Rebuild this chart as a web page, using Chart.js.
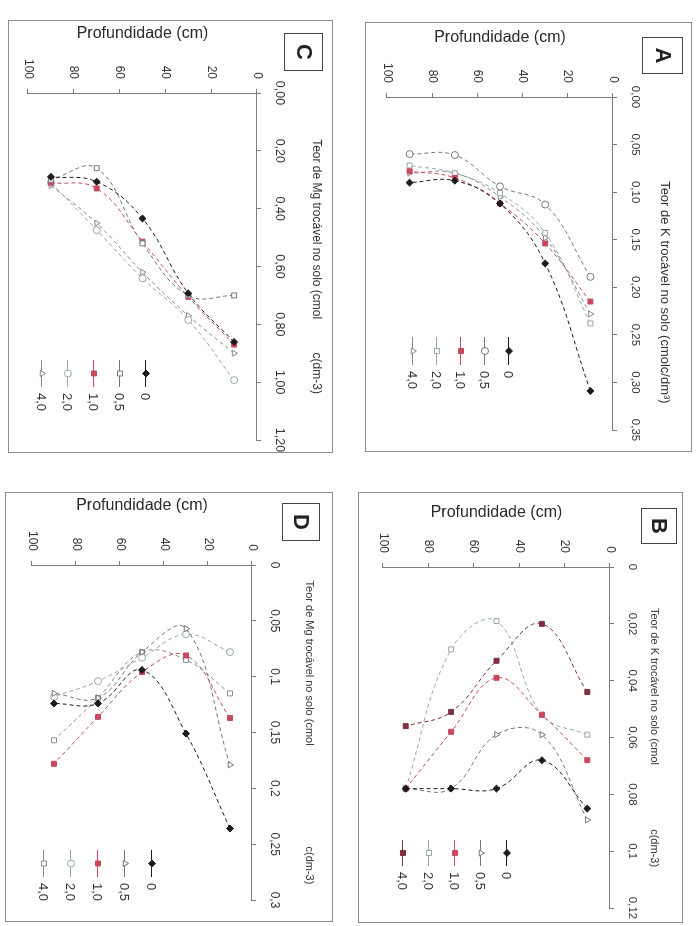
<!DOCTYPE html>
<html lang="pt">
<head>
<meta charset="utf-8">
<title>Teores de K e Mg trocáveis no perfil do solo</title>
<script src="https://cdn.jsdelivr.net/npm/chart.js@4.4.1/dist/chart.umd.min.js"></script>
<style>
  html, body { margin: 0; padding: 0; background: #fff; }
  body { position: relative; width: 697px; height: 926px; overflow: hidden; }
  /* cada painel e desenhado "em pe" e girado 90 graus, como na folha digitalizada */
  .painel { position: absolute; transform-origin: 0 0; transform: rotate(90deg); outline: 1px solid #8c8c8c; outline-offset: -1px; }
  .painel canvas { display: block; }
</style>
</head>
<body>
<div class="painel" style="left:692px;top:22px;width:430px;height:327px"><canvas id="chartA" width="430" height="327"></canvas></div>
<div class="painel" style="left:683px;top:492px;width:431px;height:325px"><canvas id="chartB" width="431" height="325"></canvas></div>
<div class="painel" style="left:333px;top:20px;width:433px;height:325px"><canvas id="chartC" width="433" height="325"></canvas></div>
<div class="painel" style="left:333px;top:492px;width:430px;height:328px"><canvas id="chartD" width="430" height="328"></canvas></div>

<script>
//----------------------------------------------------------------------------------------------------------------------------
// Profundidades de amostragem (cm) e doses (legenda)
const profundidades = [10, 30, 50, 70, 90];
const doses = ['0', '0,5', '1,0', '2,0', '4,0'];

// Rótulos dos eixos
const ticksProf = ['0', '20', '40', '60', '80', '100'];
const ticksA = ['0,00', '0,05', '0,10', '0,15', '0,20', '0,25', '0,30', '0,35'];
const ticksB = ['0', '0,02', '0,04', '0,06', '0,08', '0,1', '0,12'];
const ticksC = ['0,00', '0,20', '0,40', '0,60', '0,80', '1,00', '1,20'];
const ticksD = ['0', '0,05', '0,1', '0,15', '0,2', '0,25', '0,3'];

// A - Teor de K trocável (cmolc/dm3), uma lista por dose, na ordem das profundidades
const kA_0  = [0.309, 0.175, 0.112, 0.088, 0.090];
const kA_05 = [0.189, 0.113, 0.094, 0.061, 0.060];
const kA_1  = [0.215, 0.154, 0.112, 0.085, 0.078];
const kA_2  = [0.238, 0.143, 0.101, 0.080, 0.072];
const kA_4  = [0.228, 0.148, 0.105, 0.080, 0.080];

// B - Teor de K trocável
const kB_0  = [0.085, 0.068, 0.078, 0.078, 0.078];
const kB_05 = [0.089, 0.059, 0.059, 0.078, 0.078];
const kB_1  = [0.068, 0.052, 0.039, 0.058, 0.078];
const kB_2  = [0.059, 0.052, 0.019, 0.029, 0.078];
const kB_4  = [0.044, 0.020, 0.033, 0.051, 0.056];

// C - Teor de Mg trocável
const mgC_0  = [0.861, 0.693, 0.434, 0.307, 0.290];
const mgC_05 = [0.700, 0.700, 0.520, 0.260, 0.300];
const mgC_1  = [0.870, 0.705, 0.514, 0.330, 0.310];
const mgC_2  = [0.993, 0.785, 0.641, 0.474, 0.310];
const mgC_4  = [0.900, 0.770, 0.620, 0.450, 0.320];

// D - Teor de Mg trocável
const mgD_0  = [0.236, 0.151, 0.094, 0.124, 0.124];
const mgD_05 = [0.179, 0.057, 0.078, 0.119, 0.115];
const mgD_1  = [0.137, 0.081, 0.096, 0.136, 0.178];
const mgD_2  = [0.078, 0.062, 0.083, 0.104, 0.118];
const mgD_4  = [0.115, 0.085, 0.078, 0.119, 0.157];

// Estilos das séries
const fonte = '"Liberation Sans", Arial, sans-serif';
const corTexto = '#333';
const corEixo = '#7c7c7c';
const coresDose = ['#1c1c1c', '#767676', '#c8485e', '#98a6b0', '#8a8a8a'];

// Caixa com a letra do painel e legenda empilhada dentro da área do gráfico
const extrasPainel = {
    id: 'extrasPainel',
    afterDraw(chart, args, opts) {
        const c = chart.ctx;
        const [bx, by, bw, bh] = opts.caixa;
        c.save();
        c.setLineDash([]);
        c.lineWidth = 1;
        c.strokeStyle = '#444';
        c.strokeRect(bx + 0.5, by + 0.5, bw, bh);
        c.fillStyle = '#222';
        c.font = 'bold 22px ' + fonte;
        c.textAlign = 'center';
        c.textBaseline = 'middle';
        c.fillText(opts.letra, bx + bw / 2 + 0.5, by + bh / 2 + 1);

        const L = opts.legenda;
        chart.data.datasets.forEach((ds, i) => {
            const y = L.top + i * L.passo;
            const x0 = L.left, x1 = L.left + L.linha;
            c.strokeStyle = ds.borderColor;
            c.beginPath();
            c.moveTo(x0, y + 0.5);
            c.lineTo(x1, y + 0.5);
            c.stroke();
            c.fillStyle = ds.pointBackgroundColor;
            c.strokeStyle = ds.pointBorderColor;
            Chart.helpers.drawPoint(c, { pointStyle: ds.pointStyle, radius: ds.pointRadius, borderWidth: 1, rotation: 0 }, (x0 + x1) / 2, y);
            c.fillStyle = corTexto;
            c.font = '13px ' + fonte;
            c.textAlign = 'left';
            c.textBaseline = 'middle';
            c.fillText(ds.label, x1 + 6, y + 1);
        });
        c.restore();
    }
};

function montaSeries(listas, estilos, cheios, cores) {
    return listas.map((valores, i) => ({
        label: doses[i],
        data: profundidades.map((p, j) => ({ x: valores[j], y: p })),
        showLine: true,
        tension: 0.4,
        borderColor: cores[i],
        borderWidth: 1,
        borderDash: [4, 3],
        pointStyle: estilos[i],
        pointRadius: 3.5,
        pointBorderWidth: 1,
        pointBorderColor: cores[i],
        pointBackgroundColor: cheios[i] ? cores[i] : '#fff'
    }));
}

function painel(id, p) {
    const ctx = document.getElementById(id).getContext('2d');
    return new Chart(ctx, {
        type: 'scatter',
        data: { datasets: montaSeries(p.listas, p.estilos, p.cheios, p.cores || coresDose) },
        options: {
            responsive: false,
            animation: false,
            layout: { padding: { top: 0, left: 0, right: p.dir, bottom: p.baixo } },
            scales: {
                x: {
                    type: 'linear',
                    position: 'top',
                    min: 0,
                    max: parseFloat(p.ticksX[p.ticksX.length - 1].replace(',', '.')),
                    afterBuildTicks: s => { s.ticks = p.ticksX.map(t => ({ value: parseFloat(t.replace(',', '.')) })); },
                    afterFit: s => { s.height = p.alturaX; s.paddingLeft = 0; s.paddingRight = 0; },
                    ticks: {
                        callback: (v, i) => p.ticksX[i],
                        autoSkip: false, maxRotation: 0, minRotation: 0,
                        padding: 11, color: corTexto,
                        font: { size: p.fonteTickX, family: fonte }
                    },
                    grid: { drawOnChartArea: false, tickLength: 4, color: corEixo },
                    border: { color: corEixo },
                    title: {
                        display: true, text: p.tituloX, color: corTexto,
                        padding: { top: p.padTituloX, bottom: 0 },
                        font: { size: p.fonteTituloX, family: fonte }
                    }
                },
                y: {
                    type: 'linear',
                    reverse: true,
                    min: 0,
                    max: 100,
                    afterBuildTicks: s => { s.ticks = ticksProf.map(t => ({ value: +t })); },
                    afterFit: s => { s.width = p.larguraY; s.paddingTop = 0; s.paddingBottom = 0; },
                    ticks: {
                        callback: (v, i) => ticksProf[i],
                        padding: 10, color: corTexto,
                        font: { size: 12, family: fonte }
                    },
                    grid: { drawOnChartArea: false, tickLength: 4, color: corEixo },
                    border: { color: corEixo },
                    title: {
                        display: true, text: 'Profundidade (cm)', color: '#2a2a2a',
                        padding: { top: p.padTituloY, bottom: 0 },
                        font: { size: 16, family: fonte }
                    }
                }
            },
            plugins: {
                legend: { display: false },
                tooltip: { enabled: false },
                extrasPainel: { letra: p.letra, caixa: p.caixa, legenda: p.legenda }
            }
        },
        plugins: [extrasPainel]
    });
}

// Painel A
painel('chartA', {
    letra: 'A',
    listas: [kA_0, kA_05, kA_1, kA_2, kA_4],
    estilos: ['rectRot', 'circle', 'rect', 'rect', 'triangle'],
    cheios: [true, false, true, false, false],
    ticksX: ticksA, fonteTickX: 11.5,
    tituloX: ' '.repeat(16) + 'Teor de K trocável no solo (cmolc/dm³)', fonteTituloX: 13, padTituloX: 20,
    padTituloY: 6,
    dir: 22, baixo: 22, larguraY: 75, alturaX: 79,
    caixa: [15, 9, 36, 40],
    legenda: { left: 315, top: 183, passo: 24, linha: 28 }
});

// Painel B
painel('chartB', {
    letra: 'B',
    listas: [kB_0, kB_05, kB_1, kB_2, kB_4],
    estilos: ['rectRot', 'triangle', 'rect', 'rect', 'rect'],
    cheios: [true, false, true, false, true],
    cores: ['#1c1c1c', '#767676', '#c8485e', '#98a6b0', '#7e3040'],
    ticksX: ticksB, fonteTickX: 11.5,
    tituloX: 'Teor de K trocável no solo (cmol' + ' '.repeat(21) + 'c(dm-3)', fonteTituloX: 11, padTituloX: 22,
    padTituloY: 11,
    dir: 15, baixo: 25, larguraY: 75, alturaX: 73,
    caixa: [16, 6, 35, 35],
    legenda: { left: 348, top: 176, passo: 26, linha: 26 }
});

// Painel C
painel('chartC', {
    letra: 'C',
    listas: [mgC_0, mgC_05, mgC_1, mgC_2, mgC_4],
    estilos: ['rectRot', 'rect', 'rect', 'circle', 'triangle'],
    cheios: [true, false, true, false, false],
    ticksX: ticksC, fonteTickX: 12.5,
    tituloX: 'Teor de Mg trocável no solo (cmol' + ' '.repeat(10) + 'c(dm-3)', fonteTituloX: 12, padTituloX: 9,
    padTituloY: 4,
    dir: 13, baixo: 20, larguraY: 73, alturaX: 76,
    caixa: [13, 10, 37, 38],
    legenda: { left: 340, top: 187, passo: 26, linha: 27 }
});

// Painel D
painel('chartD', {
    letra: 'D',
    listas: [mgD_0, mgD_05, mgD_1, mgD_2, mgD_4],
    estilos: ['rectRot', 'triangle', 'rect', 'circle', 'rect'],
    cheios: [true, false, true, false, false],
    ticksX: ticksD, fonteTickX: 12,
    tituloX: 'Teor de Mg trocável no solo (cmol' + ' '.repeat(33) + 'c(dm-3)', fonteTituloX: 11, padTituloX: 17,
    padTituloY: 4,
    dir: 22, baixo: 27, larguraY: 73, alturaX: 81,
    caixa: [11, 13, 37, 37],
    legenda: { left: 358, top: 181, passo: 27, linha: 27 }
});
//----------------------------------------------------------------------------------------------------------------------------
</script>
</body>
</html>
